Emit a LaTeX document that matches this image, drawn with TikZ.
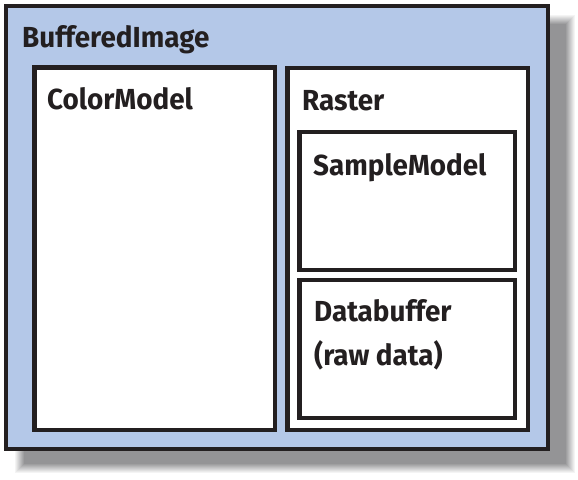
\documentclass[tikz,border=0pt]{standalone}
\usepackage{fontspec}
\setmainfont{Fira Sans}[FakeStretch=0.96]
\definecolor{bgblue}{RGB}{180,200,232}
\definecolor{ink}{RGB}{35,31,32}
\definecolor{shadowgray}{RGB}{148,148,150}
\begin{document}
\begin{tikzpicture}[x=1pt,y=-1pt,
  box/.style={draw=ink,line width=4.5pt,fill=white,rectangle,inner sep=0pt,outer sep=0pt,anchor=north west},
  lbl/.style={anchor=base west,inner sep=0pt,font=\fontsize{29}{31}\selectfont\bfseries,text=ink}]
\useasboundingbox (0,0) rectangle (578,479);
\fill[white] (0,0) rectangle (578,479);
% shadow: opaque rings from light (outside) to dark (inside)
\foreach \i in {9,...,1}{
  \pgfmathtruncatemacro{\p}{100-\i*10}
  \fill[fill=shadowgray!\p!white] (24-\i,24-\i) rectangle (566+\i,464+\i);
}
\fill[fill=shadowgray] (24,24) rectangle (566,464);
\node[box,fill=bgblue,line width=4pt,minimum width=542pt,minimum height=443pt] (bi) at (6,6) {};
\node[box,minimum width=240.5pt,minimum height=362.5pt] (cm) at (34.5,67.5) {};
\node[box,minimum width=240.5pt,minimum height=362pt] (ra) at (287.5,68) {};
\node[box,minimum width=215.5pt,minimum height=138pt] (sm) at (299.5,132) {};
\node[box,minimum width=215.5pt,minimum height=138pt] (db) at (299.5,280) {};
\node[lbl] (tbi) at (22,47) {BufferedImage};
\node[lbl] (tcm) at (47,109) {ColorModel};
\node[lbl] (tra) at (302,110) {Raster};
\node[lbl] (tsm) at (313,175) {SampleModel};
\node[lbl] (tdb) at (314,321) {Databuffer};
\node[lbl] (trd) at (314,365) {(raw data)};
\end{tikzpicture}
\end{document}
